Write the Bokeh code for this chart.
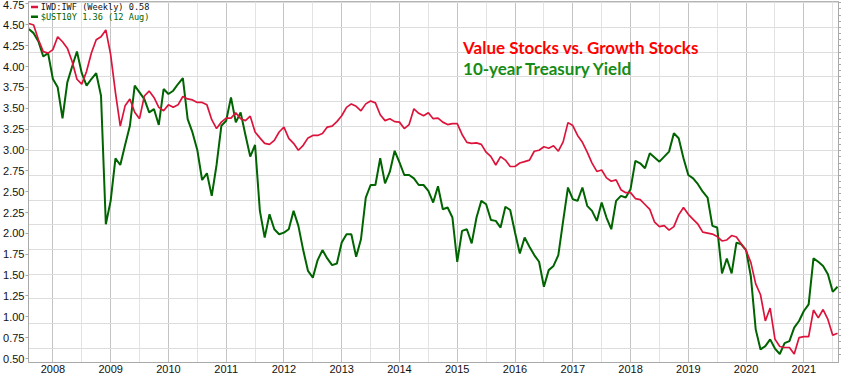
import pandas as pd
from bokeh.plotting import figure
from bokeh.models import Range1d, LinearAxis, FixedTicker, Grid, Label, NumeralTickFormatter
from bokeh.embed import file_html
from bokeh.resources import INLINE

# ---------------- data (monthly, Aug 2007 .. Aug 2021) ----------------
start_month = "2007-08-01"
n_points = 169

ust10y = [
    4.45, 4.40, 4.30, 4.12, 4.16,
    3.85, 3.75, 3.38, 3.81, 4.00, 4.18, 3.92, 3.77, 3.85, 3.92, 3.65, 2.11,
    2.39, 2.90, 2.82, 3.06, 3.29, 3.77, 3.69, 3.61, 3.45, 3.49, 3.30, 3.73,
    3.67, 3.71, 3.79, 3.86, 3.37, 3.21, 3.00, 2.64, 2.72, 2.45, 2.82, 3.29,
    3.35, 3.63, 3.33, 3.45, 3.18, 2.92, 3.06, 2.27, 1.95, 2.23, 2.05, 1.99,
    2.01, 2.05, 2.27, 2.09, 1.80, 1.55, 1.47, 1.68, 1.80, 1.70, 1.62, 1.64,
    1.89, 1.99, 1.99, 1.72, 1.93, 2.43, 2.58, 2.58, 2.90, 2.60, 2.74, 2.99,
    2.85, 2.70, 2.70, 2.66, 2.58, 2.58, 2.51, 2.37, 2.565, 2.29, 2.31, 2.19,
    1.66, 2.03, 2.05, 1.88, 2.19, 2.39, 2.35, 2.16, 2.15, 2.07, 2.32, 2.28,
    2.01, 1.76, 1.95, 1.84, 1.74, 1.66, 1.36, 1.56, 1.61, 1.74, 2.15, 2.55,
    2.41, 2.39, 2.55, 2.33, 2.27, 2.15, 2.37, 2.19, 2.05, 2.39, 2.45, 2.43,
    2.53, 2.87, 2.84, 2.78, 2.96, 2.91, 2.86, 2.92, 2.98, 3.20, 3.14, 2.90,
    2.70, 2.66, 2.59, 2.50, 2.43, 2.09, 2.07, 1.52, 1.70, 1.52, 1.89, 1.87,
    1.80, 1.48, 0.85, 0.61, 0.65, 0.73, 0.62, 0.555, 0.685, 0.71, 0.87, 0.95,
    1.07, 1.15, 1.70, 1.66, 1.61, 1.51, 1.30, 1.36,
]

iwd_iwf = [
    1.208, 1.205, 1.175, 1.151, 1.148,
    1.155, 1.181, 1.171, 1.158, 1.131, 1.095, 1.085, 1.111, 1.148, 1.175, 1.181, 1.195,
    1.145, 1.068, 1.000, 1.041, 1.055, 1.028, 1.015, 1.061, 1.071, 1.058, 1.038, 1.031,
    1.043, 1.038, 1.043, 1.060, 1.055, 1.053, 1.048, 1.048, 1.043, 1.013, 0.995, 1.008,
    1.016, 1.016, 1.027, 1.015, 1.011, 1.020, 0.988, 0.976, 0.965, 0.963, 0.971, 0.988,
    0.998, 0.975, 0.965, 0.951, 0.961, 0.976, 0.981, 0.981, 0.985, 0.998, 1.000, 1.009,
    1.021, 1.038, 1.045, 1.040, 1.031, 1.045, 1.051, 1.047, 1.023, 1.011, 1.015, 1.009,
    1.008, 0.995, 1.003, 1.035, 1.026, 1.021, 1.027, 1.015, 1.016, 1.008, 1.003, 1.005,
    1.005, 0.983, 0.967, 0.965, 0.966, 0.963, 0.947, 0.938, 0.921, 0.938, 0.931, 0.918,
    0.918, 0.925, 0.928, 0.931, 0.949, 0.951, 0.958, 0.955, 0.960, 0.949, 0.968, 1.007,
    1.001, 0.981, 0.967, 0.947, 0.925, 0.908, 0.911, 0.895, 0.888, 0.891, 0.871, 0.865,
    0.865, 0.853, 0.851, 0.841, 0.831, 0.805, 0.796, 0.798, 0.789, 0.796, 0.820, 0.835,
    0.821, 0.811, 0.801, 0.785, 0.783, 0.781, 0.776, 0.767, 0.769, 0.778, 0.775, 0.761,
    0.748, 0.723, 0.680, 0.658, 0.605, 0.631, 0.568, 0.553, 0.551, 0.551, 0.538, 0.571,
    0.573, 0.573, 0.627, 0.611, 0.628, 0.608, 0.576, 0.580,
]

year_ticks = [2008, 2009, 2010, 2011, 2012, 2013, 2014, 2015, 2016, 2017, 2018, 2019, 2020, 2021]
year_labels = ["2008", "2009", "2010", "2011", "2012", "2013", "2014", "2015", "2016",
               "2017", "2018", "2019", "2020", "2021"]
half_year_ticks = [2007.5, 2008.5, 2009.5, 2010.5, 2011.5, 2012.5, 2013.5, 2014.5,
                   2015.5, 2016.5, 2017.5, 2018.5, 2019.5, 2020.5, 2021.5]
yield_ticks = [0.50, 0.75, 1.00, 1.25, 1.50, 1.75, 2.00, 2.25, 2.50, 2.75, 3.00,
               3.25, 3.50, 3.75, 4.00, 4.25, 4.50, 4.75]
ratio_ticks = [0.55, 0.60, 0.65, 0.70, 0.75, 0.80, 0.85, 0.90, 0.95, 1.00, 1.05,
               1.10, 1.15, 1.20, 1.25]
ratio_minor = [0.5375, 0.5625, 0.575, 0.5875, 0.6125, 0.625, 0.6375, 0.6625, 0.675, 0.6875,
               0.7125, 0.725, 0.7375, 0.7625, 0.775, 0.7875, 0.8125, 0.825, 0.8375,
               0.8625, 0.875, 0.8875, 0.9125, 0.925, 0.9375, 0.9625, 0.975, 0.9875,
               1.0125, 1.025, 1.0375, 1.0625, 1.075, 1.0875, 1.1125, 1.125, 1.1375,
               1.1625, 1.175, 1.1875, 1.2125, 1.225, 1.2375]

legend_1 = "IWD:IWF (Weekly) 0.58"
legend_2 = "$UST10Y 1.36 (12 Aug)"
title_1 = "Value Stocks vs. Growth Stocks"
title_2 = "10-year Treasury Yield"

dates = pd.date_range(start_month, periods=n_points, freq="MS")
xs = list(dates.year + (dates.month - 1) / 12.0)

# ---------------- figure ----------------
p = figure(width=841, height=377, output_backend="svg", toolbar_location=None,
           x_range=Range1d(2007.578, 2021.60), y_range=Range1d(0.453, 4.779),
           min_border_left=28, min_border_right=3, min_border_top=1, min_border_bottom=15,
           background_fill_color="white", border_fill_color="white")
p.extra_y_ranges = {"ratio": Range1d(0.5206, 1.2526)}
p.outline_line_color = "#b4b4b4"

axis_col = "#a9a9a9"
tick_font = "Liberation Sans"

# left axis: yield scale
ya = p.yaxis[0]
ya.ticker = FixedTicker(ticks=yield_ticks)
ya.formatter = NumeralTickFormatter(format="0.00")
ya.major_tick_out = 3
ya.major_tick_in = 0
ya.minor_tick_out = 0
ya.major_label_standoff = 1
ya.axis_line_color = axis_col
ya.major_tick_line_color = axis_col
ya.major_label_text_font = tick_font
ya.major_label_text_font_size = "11px"
ya.major_label_text_color = "#111111"

# bottom axis: years
xa = p.xaxis[0]
xa.ticker = FixedTicker(ticks=year_ticks)
xa.major_label_overrides = {t: s for t, s in zip(year_ticks, year_labels)}
xa.major_tick_out = 0
xa.major_tick_in = 0
xa.minor_tick_out = 0
xa.major_label_standoff = 2
xa.axis_line_color = axis_col
xa.major_label_text_font = tick_font
xa.major_label_text_font_size = "11px"
xa.major_label_text_color = "#111111"

# right axis: ratio scale, tick marks only (its labels are cut off in the reference)
ratio_grid_ticker = FixedTicker(ticks=ratio_ticks)
ratio_mark_ticker = FixedTicker(ticks=[], minor_ticks=ratio_ticks + ratio_minor)
ra = LinearAxis(y_range_name="ratio", ticker=ratio_mark_ticker,
                major_label_standoff=0, major_tick_out=0, major_tick_in=0,
                minor_tick_out=3, minor_tick_in=0,
                axis_line_color=axis_col, minor_tick_line_color=axis_col)
p.add_layout(ra, "right")

# grids
p.ygrid.grid_line_color = None
p.xgrid.ticker = FixedTicker(ticks=year_ticks, minor_ticks=half_year_ticks)
p.xgrid.grid_line_color = "#c4c4c4"
p.xgrid.minor_grid_line_color = "#e3e3e3"
hgrid = Grid(dimension=1, ticker=ratio_grid_ticker, y_range_name="ratio",
             grid_line_color="#dddddd")
p.add_layout(hgrid)

# series
p.line(xs, ust10y, line_color="#006400", line_width=2)
p.line(xs, iwd_iwf, line_color="#dc143c", line_width=1.7, y_range_name="ratio")

# legend (top-left)
p.segment(x0=[2007.621], y0=[4.714], x1=[2007.742], y1=[4.714], line_color="#dc143c", line_width=2.5)
p.segment(x0=[2007.621], y0=[4.596], x1=[2007.742], y1=[4.596], line_color="#006400", line_width=2.5)
p.add_layout(Label(x=2007.79, y=4.714, text=legend_1, text_font="DejaVu Sans Mono",
                   text_font_size="8.6px", text_color="#111111", text_baseline="middle"))
p.add_layout(Label(x=2007.79, y=4.596, text=legend_2, text_font="DejaVu Sans Mono",
                   text_font_size="8.6px", text_color="#006400", text_baseline="middle"))

# annotation titles
p.add_layout(Label(x=2015.10, y=4.232, text=title_1, text_font="Lato", text_font_style="bold",
                   text_font_size="17px", text_color="#ff0000", text_baseline="alphabetic"))
p.add_layout(Label(x=2015.10, y=3.971, text=title_2, text_font="Lato", text_font_style="bold",
                   text_font_size="17px", text_color="#168c16", text_baseline="alphabetic"))

open("out.html", "w").write(file_html(p, INLINE))
